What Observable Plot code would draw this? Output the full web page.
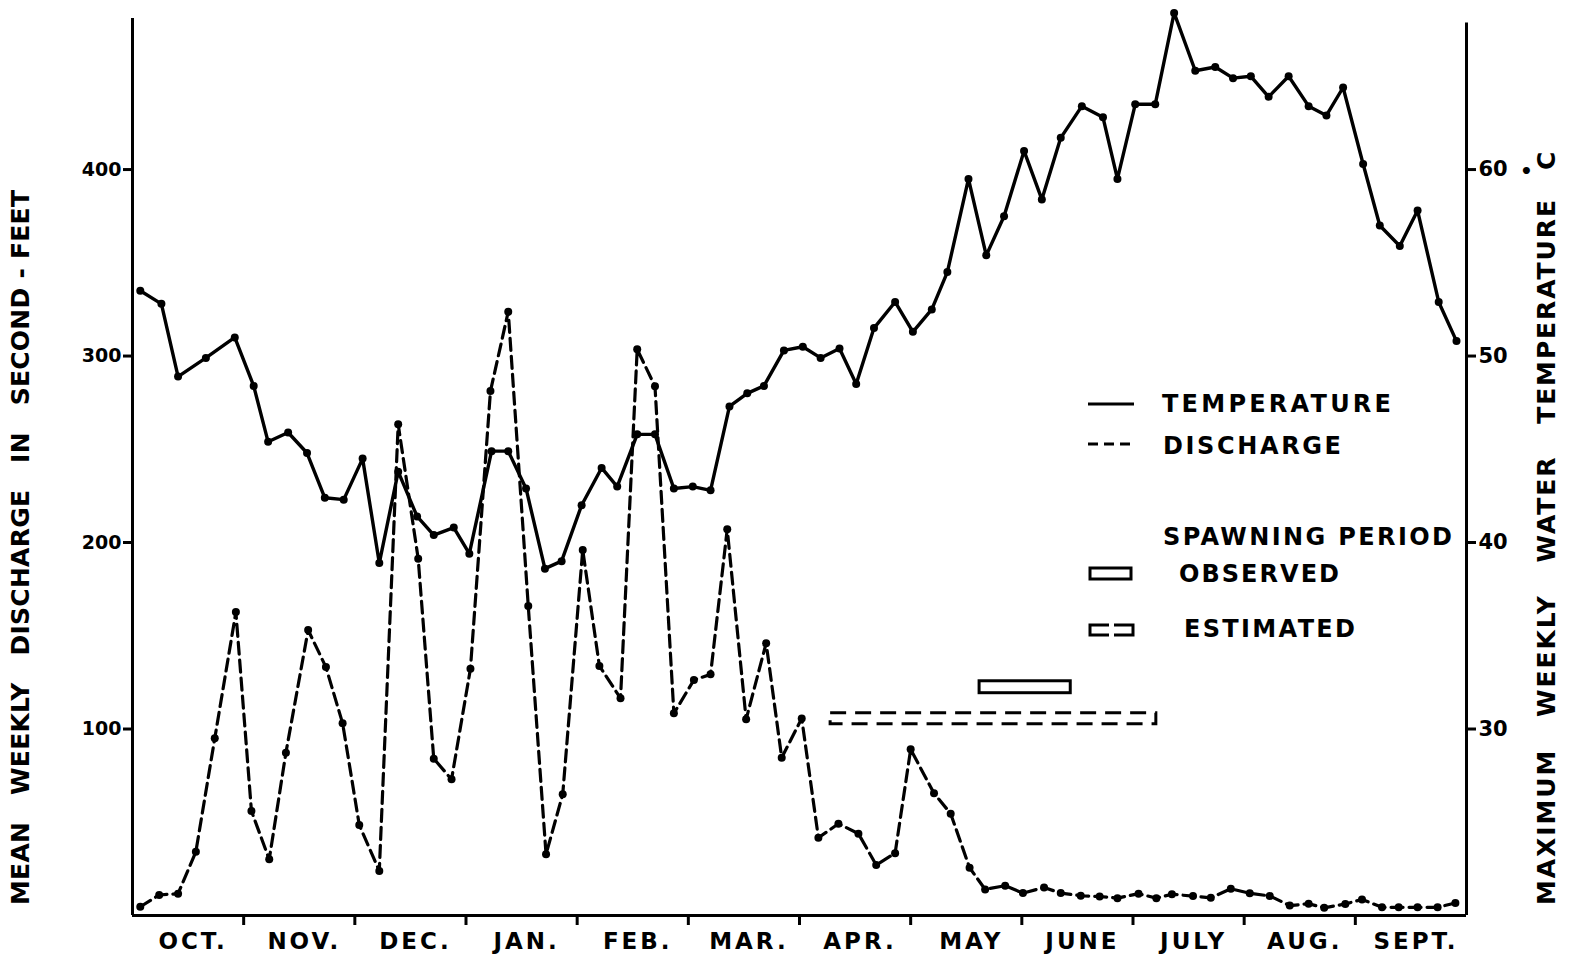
<!DOCTYPE html>
<html><head><meta charset="utf-8">
<script src="https://cdn.jsdelivr.net/npm/d3@7"></script>
<script src="https://cdn.jsdelivr.net/npm/@observablehq/plot@0.6"></script>
<style>
html,body{margin:0;padding:0;background:#fff;}
svg{display:block;}
#chart svg text{font-weight:700;fill:#000;}
</style>
</head><body><div id="chart"></div>
<script>
// ---- data (x in months since Oct 1) ----
const monthLabels = ["OCT.","NOV.","DEC.","JAN.","FEB.","MAR.","APR.","MAY","JUNE","JULY","AUG.","SEPT."];
const monthBounds = [1,2,3,4,5,6,7,8,9,10,11];
const tempMonth = [0.07,0.26,0.41,0.66,0.92,1.09,1.22,1.40,1.57,1.73,
  1.90,2.07,2.22,2.39,2.56,2.71,2.89,3.03,3.23,3.38,
  3.54,3.71,3.86,4.04,4.22,4.36,4.54,4.70,4.87,5.04,
  5.20,5.37,5.53,5.68,5.86,6.03,6.19,6.36,6.51,6.67,
  6.86,7.02,7.19,7.33,7.52,7.68,7.84,8.02,8.18,8.35,
  8.54,8.73,8.86,9.02,9.20,9.37,9.56,9.74,9.90,10.06,
  10.22,10.40,10.58,10.74,10.89,11.07,11.22,11.40,11.56,11.75,11.91];
const tempF = [53.5,52.8,48.9,49.9,51.0,48.4,45.4,45.9,44.8,42.4,
  42.3,44.5,38.9,43.8,41.4,40.4,40.8,39.4,44.9,44.9,
  42.9,38.6,39.0,42.0,44.0,43.0,45.8,45.8,42.9,43.0,
  42.8,47.3,48.0,48.4,50.3,50.5,49.9,50.4,48.5,51.5,
  52.9,51.3,52.5,54.5,59.5,55.4,57.5,61.0,58.4,61.7,
  63.4,62.8,59.5,63.5,63.5,68.4,65.3,65.5,64.9,65.0,
  63.9,65.0,63.4,62.9,64.4,60.3,57.0,55.9,57.8,52.9,50.8];
const dischargeMonth = [0.07,0.24,0.41,0.57,0.74,0.93,1.07,1.23,1.38,1.58,
  1.74,1.89,2.04,2.22,2.39,2.57,2.71,2.87,3.04,3.22,
  3.38,3.56,3.72,3.87,4.05,4.20,4.39,4.54,4.70,4.87,
  5.05,5.20,5.35,5.52,5.70,5.84,6.02,6.17,6.35,6.53,
  6.69,6.86,7.00,7.21,7.36,7.53,7.67,7.85,8.01,8.20,
  8.35,8.53,8.70,8.86,9.05,9.21,9.35,9.54,9.70,9.88,
  10.05,10.23,10.41,10.58,10.72,10.91,11.06,11.24,11.39,11.56,11.74,11.90];
const dischargeCfs = [4.7,11.0,11.7,34.2,95.0,162.7,56.0,30.1,87.3,153.1,
  133.2,103.1,48.5,23.9,263.4,191.3,84.1,73.0,132.3,281.2,
  323.8,166.0,32.8,65.0,196.0,133.8,116.5,303.6,283.8,108.4,
  126.3,129.3,207.1,105.2,146.0,84.6,105.7,41.7,49.2,43.9,
  27.1,33.4,89.1,65.5,54.6,25.6,14.0,16.0,12.0,15.0,
  12.0,10.6,10.2,9.3,11.7,9.3,11.4,10.4,9.5,14.3,
  11.9,10.5,5.3,6.3,4.1,6.2,8.6,4.4,4.4,4.4,4.4,6.7];
const dischargeTicks = [100,200,300,400];
const tempTicks = [30,40,50,60];
const spawnType = ["OBSERVED","ESTIMATED"];
const spawnStart = [7.62, 6.28];
const spawnEnd = [8.44, 9.21];
const spawnLow = [119.2, 102.5];
const spawnHigh = [125.6, 108.4];

// ---- build ----
const FONT = "'DejaVu Sans', sans-serif";
const toY = t => (t - 20) * 10;   // temperature (°F) onto discharge scale
const temp = tempMonth.map((m,i)=>({m, t: tempF[i]}));
const dis = dischargeMonth.map((m,i)=>({m, q: dischargeCfs[i]}));
const spawn = spawnType.map((k,i)=>({k, x1: spawnStart[i], x2: spawnEnd[i], y1: spawnLow[i], y2: spawnHigh[i]}));

const plot = Plot.plot({
  width: 1571, height: 959,
  marginLeft: 132, marginRight: 105, marginTop: 18, marginBottom: 44,
  x: {domain: [0, 12]},
  y: {domain: [0, 481]},
  style: {fontFamily: FONT, background: "#fff", color: "#000", overflow: "visible"},
  marks: [
    Plot.ruleY([0], {stroke: "#000", strokeWidth: 3}),
    Plot.ruleX([0], {y1: 0, y2: 481, stroke: "#000", strokeWidth: 3}),
    Plot.ruleX([12], {y1: 0, y2: 478.6, stroke: "#000", strokeWidth: 3}),
    Plot.axisX({ticks: monthBounds, tickSize: 10, tickFormat: () => "", strokeWidth: 3, strokeOpacity: 1, label: null}),
    Plot.axisX({ticks: monthLabels.map((d,i)=>i+0.5), tickSize: 0, tickPadding: 17,
      tickFormat: d => monthLabels[Math.floor(d)], fontSize: 22, label: null}),
    Plot.axisY({anchor: "left", ticks: dischargeTicks, tickSize: 9, tickPadding: 2, strokeWidth: 3, strokeOpacity: 1, fontSize: 19, label: null}),
    Plot.axisY({anchor: "right", ticks: tempTicks.map(toY), tickFormat: d => d/10 + 20, tickSize: 9, tickPadding: 3, strokeWidth: 3, strokeOpacity: 1, fontSize: 21, label: null}),
    Plot.line(dis, {x: "m", y: "q", stroke: "#000", strokeWidth: 3.2, strokeDasharray: "12,6"}),
    Plot.dot(dis, {x: "m", y: "q", r: 4, fill: "#000"}),
    Plot.line(temp, {x: "m", y: d => toY(d.t), stroke: "#000", strokeWidth: 3.4}),
    Plot.dot(temp, {x: "m", y: d => toY(d.t), r: 4, fill: "#000"}),
    Plot.rect(spawn.filter(d => d.k === "OBSERVED"), {x1: "x1", x2: "x2", y1: "y1", y2: "y2", fill: "none", stroke: "#000", strokeWidth: 3}),
    Plot.rect(spawn.filter(d => d.k === "ESTIMATED"), {x1: "x1", x2: "x2", y1: "y1", y2: "y2", fill: "none", stroke: "#000", strokeWidth: 3, strokeDasharray: "16,9"})
  ]
});
document.getElementById("chart").appendChild(plot);

// ---- letter-spacing on month labels ----
const svg = d3.select(plot);
svg.selectAll("text").filter(function() { return monthLabels.includes(this.textContent); })
  .style("letter-spacing", "3px").attr("font-size", 23).attr("dx", 5);

// ---- legend & axis titles ----
const g = svg.append("g").attr("font-family", FONT).attr("font-weight", 700)
  .attr("fill", "#000").attr("text-anchor", "start");
const ink = {stroke: "#000", "stroke-width": 3, fill: "none"};
function path(d, extra) { const p = g.append("path").attr("d", d); Object.entries({...ink, ...(extra||{})}).forEach(([k,v]) => p.attr(k, v)); return p; }
function label(txt, x, y, size, len) {
  const t = g.append("text").attr("x", x).attr("y", y).attr("font-size", size)
    .attr("text-anchor", "start").attr("dominant-baseline", "central").text(txt);
  if (len) t.attr("textLength", len).attr("lengthAdjust", "spacing");
  return t;
}
path("M1088,404H1134");
path("M1088,444H1134", {"stroke-dasharray": "10,6"});
path("M1090,568H1131V579H1090Z");
path("M1109,625H1090V635H1109");
path("M1114,625H1133V635H1114");
label("TEMPERATURE", 1162, 404, 24, 229);
label("DISCHARGE", 1163, 446, 24, 178);
label("SPAWNING PERIOD", 1163, 537, 24, 289);
label("OBSERVED", 1179, 574, 24, 160);
label("ESTIMATED", 1184, 629, 24, 171);

function vtitle(txt, x, y, size, len) {
  g.append("text").attr("transform", `translate(${x},${y}) rotate(-90)`)
    .attr("font-size", size).attr("text-anchor", "start").attr("dominant-baseline", "central")
    .style("white-space", "pre")
    .attr("textLength", len).attr("lengthAdjust", "spacing").text(txt);
}
vtitle("MEAN   WEEKLY   DISCHARGE   IN   SECOND - FEET", 20, 905, 25, 715);
vtitle("MAXIMUM   WEEKLY   WATER   TEMPERATURE", 1546, 905, 25, 705);
vtitle("C", 1546, 170, 25, 16);
label("•", 1520, 171, 20);
</script>
</body></html>
